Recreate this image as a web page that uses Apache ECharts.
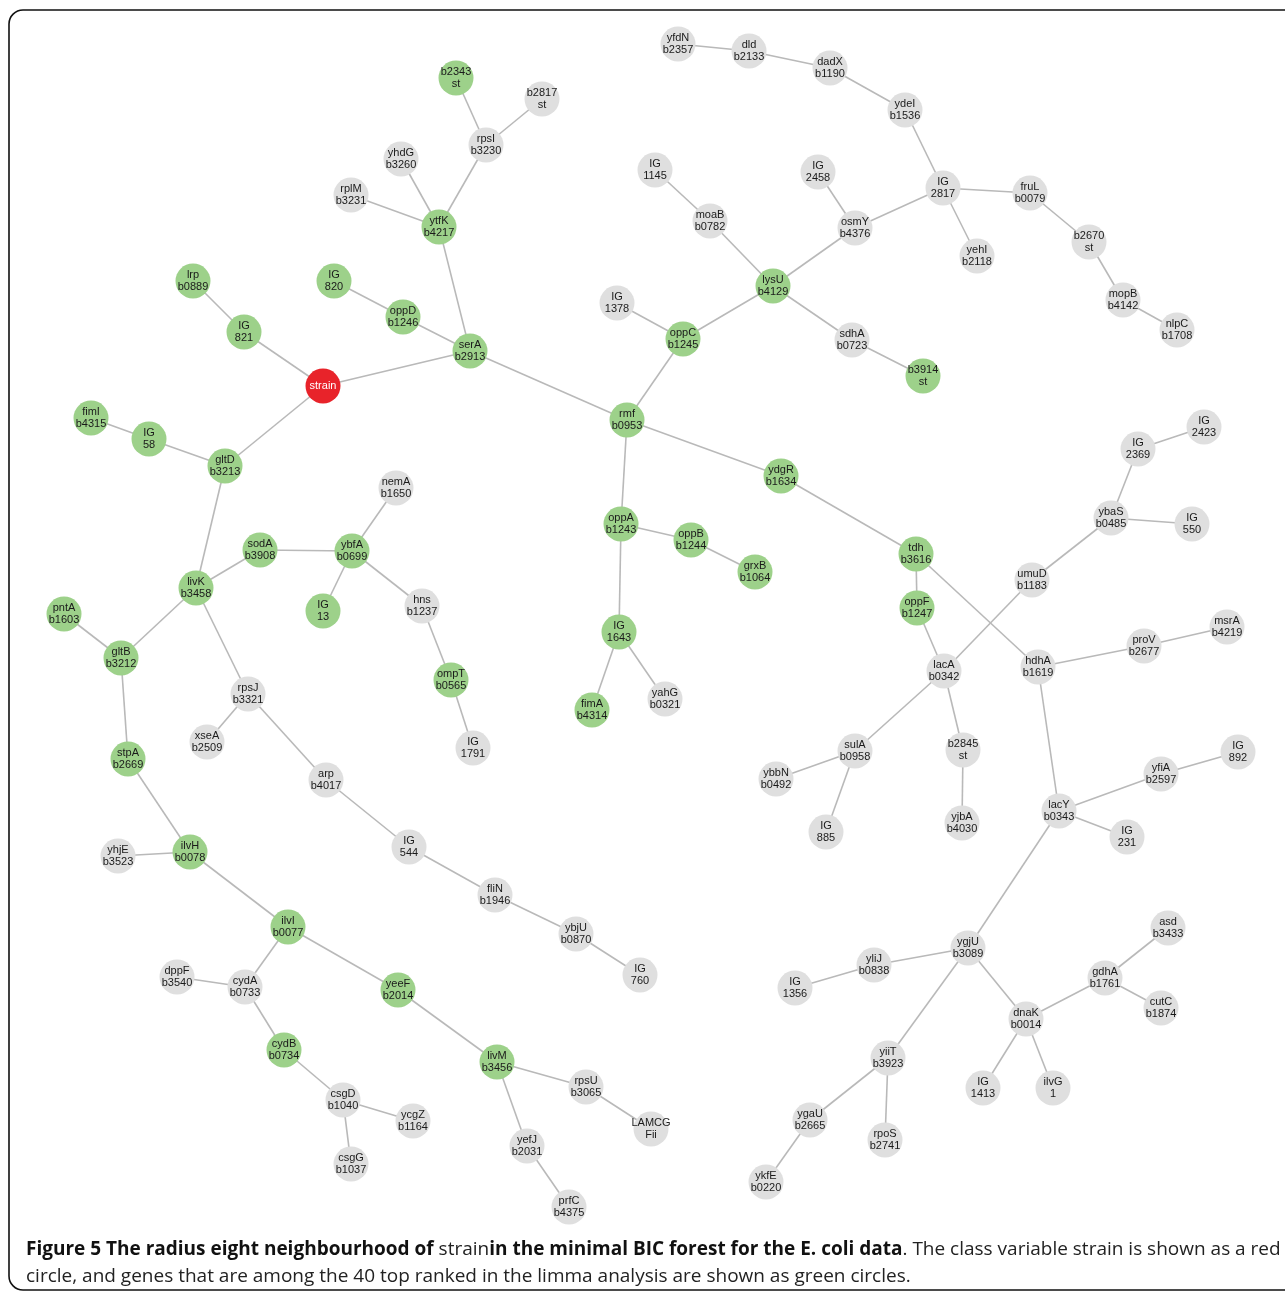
<!DOCTYPE html>
<html>
<head>
<meta charset="utf-8">
<script src="https://cdn.jsdelivr.net/npm/echarts@6/dist/echarts.min.js"></script>
<style>
html,body{margin:0;padding:0;background:#fff;}
#chart{width:1285px;height:1294px;}
</style>
</head>
<body>
<div id="chart"></div>
<script>
// ---- data ----
const nodeIds = ['strain','serA','oppD','IG820','ytfK','rplM','yhdG','rpsI','b2343','b2817',
 'IG821','lrp','gltD','IG58','fimI','livK','sodA','ybfA','nemA','IG13',
 'hns','ompT','IG1791','gltB','pntA','stpA','ilvH','yhjE','ilvI','cydA',
 'dppF','cydB','csgD','ycgZ','csgG','yeeF','livM','rpsU','LAMCG','yefJ',
 'prfC','rpsJ','xseA','arp','IG544','fliN','ybjU','IG760','rmf','oppC',
 'IG1378','lysU','moaB','IG1145','osmY','IG2458','IG2817','ydeI','dadX','dld',
 'yfdN','fruL','yehI','b2670','mopB','nlpC','sdhA','b3914','oppA','oppB',
 'grxB','IG1643','fimA','yahG','ydgR','tdh','oppF','lacA','umuD','ybaS',
 'IG2369','IG2423','IG550','sulA','ybbN','IG885','b2845','yjbA','hdhA','proV',
 'msrA','lacY','yfiA','IG892','IG231','ygjU','yliJ','IG1356','dnaK','gdhA',
 'asd','cutC','IG1413','ilvG','yiiT','ygaU','rpoS','ykfE'];
const nodeTop = ['strain','serA','oppD','IG','ytfK','rplM','yhdG','rpsI','b2343','b2817',
 'IG','lrp','gltD','IG','fimI','livK','sodA','ybfA','nemA','IG',
 'hns','ompT','IG','gltB','pntA','stpA','ilvH','yhjE','ilvI','cydA',
 'dppF','cydB','csgD','ycgZ','csgG','yeeF','livM','rpsU','LAMCG','yefJ',
 'prfC','rpsJ','xseA','arp','IG','fliN','ybjU','IG','rmf','oppC',
 'IG','lysU','moaB','IG','osmY','IG','IG','ydeI','dadX','dld',
 'yfdN','fruL','yehI','b2670','mopB','nlpC','sdhA','b3914','oppA','oppB',
 'grxB','IG','fimA','yahG','ydgR','tdh','oppF','lacA','umuD','ybaS',
 'IG','IG','IG','sulA','ybbN','IG','b2845','yjbA','hdhA','proV',
 'msrA','lacY','yfiA','IG','IG','ygjU','yliJ','IG','dnaK','gdhA',
 'asd','cutC','IG','ilvG','yiiT','ygaU','rpoS','ykfE'];
const nodeBottom = ['','b2913','b1246','820','b4217','b3231','b3260','b3230','st','st',
 '821','b0889','b3213','58','b4315','b3458','b3908','b0699','b1650','13',
 'b1237','b0565','1791','b3212','b1603','b2669','b0078','b3523','b0077','b0733',
 'b3540','b0734','b1040','b1164','b1037','b2014','b3456','b3065','Fii','b2031',
 'b4375','b3321','b2509','b4017','544','b1946','b0870','760','b0953','b1245',
 '1378','b4129','b0782','1145','b4376','2458','2817','b1536','b1190','b2133',
 'b2357','b0079','b2118','st','b4142','b1708','b0723','st','b1243','b1244',
 'b1064','1643','b4314','b0321','b1634','b3616','b1247','b0342','b1183','b0485',
 '2369','2423','550','b0958','b0492','885','st','b4030','b1619','b2677',
 'b4219','b0343','b2597','892','231','b3089','b0838','1356','b0014','b1761',
 'b3433','b1874','1413','1','b3923','b2665','b2741','b0220'];
const nodeX = [323,470,403,334,439,351,401,486,456,542,
 244,193,225,149,91,196,260,352,396,323,
 422,451,473,121,64,128,190,118,288,245,
 177,284,343,413,351,398,497,586,651,527,
 569,248,207,326,409,495,576,640,627,683,
 617,773,710,655,855,818,943,905,830,749,
 678,1030,977,1089,1123,1177,852,923,621,691,
 755,619,592,665,781,916,917,944,1032,1111,
 1138,1204,1192,855,776,826,963,962,1038,1144,
 1227,1059,1161,1238,1127,968,874,795,1026,1105,
 1168,1161,983,1053,888,810,885,766];
const nodeY = [386,351,317,281,227,195,159,145,78,99,
 332,281,466,439,418,588,550,551,488,611,
 606,680,748,658,614,759,852,856,927,987,
 977,1050,1100,1121,1164,990,1062,1087,1129,1146,
 1207,694,742,780,847,895,934,975,420,339,
 303,286,221,170,228,172,188,110,68,51,
 44,193,256,242,300,330,340,376,524,540,
 572,632,710,699,476,554,608,671,580,518,
 449,427,524,751,779,832,750,823,667,646,
 627,811,774,752,837,948,965,988,1019,978,
 928,1008,1088,1088,1058,1120,1140,1182];
const classNode = 'strain';
const topRanked = ['serA','oppD','IG820','ytfK','b2343','IG821','lrp','gltD','IG58','fimI',
 'livK','sodA','ybfA','IG13','ompT','gltB','pntA','stpA','ilvH','ilvI','cydB','yeeF','livM',
 'rmf','oppC','lysU','b3914','oppA','oppB','grxB','IG1643','fimA','ydgR','tdh','oppF'];
const linkFrom = ['yfdN','dld','dadX','ydeI','IG2817','IG2817','IG2817','fruL','b2670','mopB',
 'IG2458','osmY','IG1145','moaB','lysU','sdhA','lysU','IG1378','oppC','rmf',
 'rmf','rmf','oppA','oppB','oppA','IG1643','IG1643','ydgR','tdh','tdh',
 'oppF','lacA','umuD','ybaS','IG2369','ybaS','lacA','lacA','b2845','sulA',
 'sulA','hdhA','proV','hdhA','lacY','yfiA','lacY','lacY','ygjU','yliJ',
 'ygjU','dnaK','gdhA','gdhA','dnaK','dnaK','ygjU','yiiT','ygaU','yiiT',
 'serA','serA','oppD','serA','ytfK','ytfK','ytfK','rpsI','rpsI','strain',
 'IG821','strain','gltD','IG58','gltD','livK','sodA','ybfA','ybfA','ybfA',
 'hns','ompT','livK','gltB','gltB','stpA','ilvH','ilvH','livK','rpsJ',
 'rpsJ','arp','IG544','fliN','ybjU','ilvI','cydA','cydA','cydB','csgD',
 'csgD','ilvI','yeeF','livM','rpsU','livM','yefJ'];
const linkTo = ['dld','dadX','ydeI','IG2817','fruL','yehI','osmY','b2670','mopB','nlpC',
 'osmY','lysU','moaB','lysU','sdhA','b3914','oppC','oppC','rmf','serA',
 'ydgR','oppA','oppB','grxB','IG1643','fimA','yahG','tdh','oppF','hdhA',
 'lacA','umuD','ybaS','IG2369','IG2423','IG550','sulA','b2845','yjbA','ybbN',
 'IG885','proV','msrA','lacY','yfiA','IG892','IG231','ygjU','yliJ','IG1356',
 'dnaK','gdhA','asd','cutC','IG1413','ilvG','yiiT','ygaU','ykfE','rpoS',
 'strain','oppD','IG820','ytfK','rplM','yhdG','rpsI','b2343','b2817','IG821',
 'lrp','gltD','IG58','fimI','livK','sodA','ybfA','nemA','IG13','hns',
 'ompT','IG1791','gltB','pntA','stpA','ilvH','yhjE','ilvI','rpsJ','xseA',
 'arp','IG544','fliN','ybjU','IG760','cydA','dppF','cydB','csgD','ycgZ',
 'csgG','yeeF','livM','rpsU','LAMCG','yefJ','prfC'];
const captionBold1 = 'Figure 5 The radius eight neighbourhood of ';
const captionPlain1 = 'strain';
const captionBold2 = 'in the minimal BIC forest for the E. coli data';
const captionPlain2 = '. The class variable strain is shown as a red';
const captionLine2 = 'circle, and genes that are among the 40 top ranked in the limma analysis are shown as green circles.';

// ---- build ----
const COLORS = {red:'#e8232a', green:'#9dd18a', gray:'#dfdfdf'};
const nodes = nodeIds.map((id,i)=>{
  const kind = id===classNode ? 'red' : (topRanked.includes(id) ? 'green' : 'gray');
  return {
    id: id, name: id,
    value: [nodeX[i], nodeY[i]],
    itemStyle: {color: COLORS[kind]},
    label: {
      formatter: nodeBottom[i] ? nodeTop[i] + '\n' + nodeBottom[i] : nodeTop[i],
      color: kind==='red' ? '#ffffff' : '#1a1a1a'
    }
  };
});
const links = linkFrom.map((s,i)=>({source:s, target:linkTo[i]}));

const chart = echarts.init(document.getElementById('chart'), null, {renderer:'canvas'});
chart.setOption({
  backgroundColor:'#ffffff',
  animation:false,
  grid:{left:0,right:0,top:0,bottom:0},
  xAxis:{type:'value',min:0,max:1285,show:false},
  yAxis:{type:'value',min:0,max:1294,inverse:true,show:false},
  graphic:[
    {type:'rect', shape:{x:9,y:10,width:1300,height:1280,r:14},
     style:{fill:'none',stroke:'#111',lineWidth:1.6}, z:-1},
    {type:'text', left:26, top:1240,
     style:{
       text:'{b|'+captionBold1+'}{n|'+captionPlain1+'}{b|'+captionBold2+'}{n|'+captionPlain2+'}',
       rich:{
         b:{fontFamily:'Open Sans',fontWeight:'bold',fontSize:19,fill:'#111'},
         n:{fontFamily:'Open Sans',fontSize:19,fill:'#222'}
       }
     }},
    {type:'text', left:26, top:1267,
     style:{text:captionLine2, fontFamily:'Open Sans', fontSize:19, fill:'#222'}}
  ],
  series:[{
    type:'graph',
    coordinateSystem:'cartesian2d',
    layout:'none',
    symbol:'circle',
    symbolSize:35,
    data:nodes,
    links:links,
    lineStyle:{color:'#b9b9b9',width:1.6,opacity:1,curveness:0},
    label:{show:true,position:'inside',fontFamily:'Liberation Sans',fontSize:11,lineHeight:12},
    emphasis:{disabled:true}
  }]
});
</script>
</body>
</html>
